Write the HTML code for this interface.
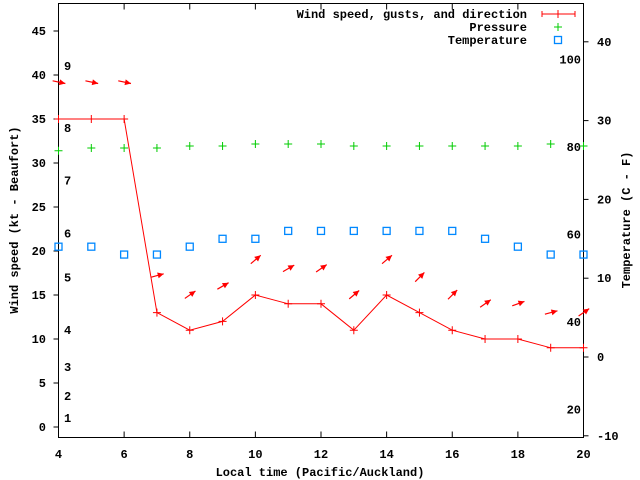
<!DOCTYPE html>
<html><head><meta charset="utf-8"><style>
body{margin:0;background:#fff}
svg{display:block;font-family:"Liberation Mono","DejaVu Sans Mono",monospace;font-size:12px;font-weight:bold}
</style></head><body>
<svg id="chart" width="640" height="480" viewBox="0 0 640 480" xmlns="http://www.w3.org/2000/svg">
<g id="axes"></g><g id="marks"></g><g id="legend"></g>
</svg>
<script>
const hours=[4,5,6,7,8,9,10,11,12,13,14,15,16,17,18,19,20];
const windSpeed=[35,35,35,13,11,12,15,14,14,11,15,13,11,10,10,9,9];
const gustSpeed=[39.2,39.2,39.2,17.2,15,16,19,18,18,15,19,17,15,14,14,13,13];
const windAngle=[-12,-12,-12,15,35,30,40,30,35,40,40,45,45,35,20,15,35];
const pressure=[1014.3,1015,1015,1015,1015.5,1015.5,1016,1016,1016,1015.5,1015.5,1015.5,1015.5,1015.5,1015.5,1016,1015.5];
const temperature=[14,14,13,13,14,15,15,16,16,16,16,16,16,15,14,13,13];
const xTicks=[4,6,8,10,12,14,16,18,20];
const yTicks=[0,5,10,15,20,25,30,35,40,45];
const y2Ticks=[-10,0,10,20,30,40];
const beaufortLabels=["1","2","3","4","5","6","7","8","9"];
const beaufortSpeeds=[1,3.5,6.8,11,17,22,28,34,41];
const fahrenheitLabels=["20","40","60","80","100"];

const L=58.5,R=583.5,T=3.5,B=437.5;
const X=h=>L+(h-4)*(R-L)/16;
const Y=v=>427-v*8.8;
const Y2=t=>357-t*7.88;
const YP=p=>148-(p-1015)*4;
const NS="http://www.w3.org/2000/svg";
function mk(tag,attrs,parent,text){const e=document.createElementNS(NS,tag);for(const k in attrs)e.setAttribute(k,attrs[k]);if(text!==undefined)e.textContent=text;parent.appendChild(e);return e;}
const ax=document.getElementById('axes'),mg=document.getElementById('marks'),lg=document.getElementById('legend');

let e=mk('rect',{x:L,y:T,width:R-L,height:B-T,fill:'none',stroke:'#000','stroke-width':1},ax);


xTicks.forEach(h=>{
  mk('line',{x1:X(h),x2:X(h),y1:B,y2:B-6,stroke:'#000'},ax);
  mk('line',{x1:X(h),x2:X(h),y1:T,y2:T+6,stroke:'#000'},ax);
  const t=mk('text',{x:X(h),y:458,'text-anchor':'middle'},ax,String(h));
  
  
});
yTicks.forEach(v=>{
  mk('line',{x1:L-5,x2:L,y1:Y(v),y2:Y(v),stroke:'#000'},ax);
  const t=mk('text',{x:46,y:Y(v)+4,'text-anchor':'end'},ax,String(v));
  
  
});
y2Ticks.forEach(v=>{
  mk('line',{x1:R,x2:R+5,y1:Y2(v),y2:Y2(v),stroke:'#000'},ax);
  const t=mk('text',{x:597,y:Y2(v)+4,'text-anchor':'start'},ax,String(v));
  
  
});
beaufortLabels.forEach((s,i)=>{
  const t=mk('text',{x:64,y:Y(beaufortSpeeds[i])+4},ax,s);
  
  
});
fahrenheitLabels.forEach(s=>{
  const c=(parseFloat(s)-32)*5/9;
  const t=mk('text',{x:581,y:Y2(c)+4,'text-anchor':'end'},ax,s);
  
  
});
e=mk('text',{x:320,y:476,'text-anchor':'middle'},ax,'Local time (Pacific/Auckland)');


e=mk('text',{x:0,y:0,'text-anchor':'middle',transform:'translate(18,220) rotate(-90)'},ax,'Wind speed (kt - Beaufort)');


e=mk('text',{x:0,y:0,'text-anchor':'middle',transform:'translate(630,220) rotate(-90)'},ax,'Temperature (C - F)');



// wind line
e=mk('polyline',{points:hours.map((h,i)=>X(h)+','+Y(windSpeed[i])).join(' '),fill:'none',stroke:'#f00','stroke-width':1},mg);


function plus(x,y,c,name){const g=mk('path',{d:`M${x-4},${y}H${x+4}M${x},${y-4}V${y+4}`,stroke:c,'stroke-width':1},mg);}
hours.forEach((h,i)=>plus(X(h),Y(windSpeed[i]),'#f00','wind-point'));
hours.forEach((h,i)=>plus(X(h),YP(pressure[i]),'#0c0','pressure-point'));
hours.forEach((h,i)=>{
  const r=mk('rect',{x:X(h)-3.5,y:Y2(temperature[i])-3.5,width:7,height:7,fill:'none',stroke:'#08f','stroke-width':1.3},mg);
  
  
});
hours.forEach((h,i)=>{
  const a=windAngle[i]*Math.PI/180,cx=X(h),cy=Y(gustSpeed[i]);
  const dx=Math.cos(a),dy=-Math.sin(a);
  const x1=cx-6*dx,y1=cy-6*dy,x2=cx+7*dx,y2=cy+7*dy;
  const g=mk('g',{},mg);
  
  
  mk('line',{x1,y1,x2,y2,stroke:'#f00','stroke-width':1.2},g);
  const px=-dy,py=dx;
  mk('polygon',{points:`${x2},${y2} ${x2-6*dx+3*px},${y2-6*dy+3*py} ${x2-6*dx-3*px},${y2-6*dy-3*py}`,fill:'#f00'},g);
});

// legend
const legItems=[['Wind speed, gusts, and direction','wind'],['Pressure','pressure'],['Temperature','temperature']];
legItems.forEach((it,i)=>{
  const y=14+i*13;
  const t=mk('text',{x:527,y:y+4,'text-anchor':'end'},lg,it[0]);
  
  
});
e=mk('path',{d:'M542,14H575M542,11V17M575,11V17M558,10V18',stroke:'#f00','stroke-width':1,fill:'none'},lg);


e=mk('path',{d:'M554,27H562M558,23V31',stroke:'#0c0','stroke-width':1},lg);


e=mk('rect',{x:554.5,y:36.5,width:7,height:7,fill:'none',stroke:'#08f','stroke-width':1.3},lg);


</script>
</body></html>
